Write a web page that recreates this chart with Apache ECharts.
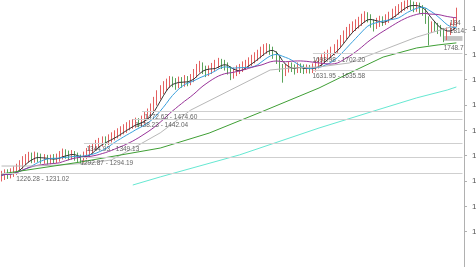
<!DOCTYPE html>
<html><head><meta charset="utf-8">
<script src="https://cdn.jsdelivr.net/npm/echarts@6/dist/echarts.min.js"></script>
<style>html,body{margin:0;padding:0;background:#fff}#c{width:476px;height:267px}</style>
</head><body><div id="c"></div>
<script>
const opens = [1215,1220,1232,1224,1230,1238,1250,1262,1278,1288,1296,1286,1298,1292,1284,1290,1280,1290,1284,1290,
1300,1310,1306,1298,1306,1298,1290,1286,1300,1314,1324,1334,1346,1350,1362,1356,1366,1374,1384,1390,
1398,1406,1414,1420,1426,1434,1430,1440,1454,1468,1488,1512,1538,1558,1574,1584,1596,1592,1580,1596,
1586,1602,1592,1604,1624,1644,1656,1640,1630,1636,1648,1660,1668,1662,1655,1640,1622,1628,1638,1644,
1654,1660,1670,1678,1688,1698,1710,1718,1726,1718,1700,1682,1650,1630,1644,1656,1648,1640,1650,1646,
1638,1646,1638,1646,1658,1668,1680,1690,1698,1710,1720,1738,1756,1774,1788,1800,1808,1816,1826,1838,
1852,1845,1826,1815,1824,1836,1830,1838,1850,1860,1870,1878,1888,1894,1900,1894,1884,1890,1880,1872,
1840,1800,1816,1810,1800,1790,1772,1790,1808,1824];
const closes = [1222,1230,1225,1232,1240,1252,1265,1280,1290,1295,1288,1298,1292,1286,1290,1282,1288,1285,1292,1302,
1310,1305,1300,1306,1298,1290,1285,1300,1315,1325,1335,1345,1352,1360,1358,1368,1375,1385,1392,1398,
1408,1415,1422,1428,1432,1430,1440,1455,1470,1490,1515,1540,1560,1575,1585,1595,1590,1580,1595,1588,
1600,1592,1605,1625,1645,1655,1640,1630,1638,1650,1660,1668,1662,1655,1640,1620,1630,1640,1645,1655,
1662,1670,1680,1690,1700,1712,1720,1725,1718,1700,1680,1650,1630,1645,1655,1648,1640,1650,1645,1640,
1645,1638,1648,1660,1670,1682,1692,1700,1712,1722,1740,1758,1775,1790,1800,1810,1818,1828,1840,1850,
1845,1825,1815,1825,1835,1830,1840,1850,1862,1872,1880,1890,1895,1900,1893,1885,1890,1880,1872,1840,
1800,1815,1810,1800,1790,1770,1790,1810,1825,1850];
const lows = [1198,1204,1208,1210,1216,1224,1236,1248,1262,1272,1270,1272,1275,1268,1268,1265,1266,1268,1270,1276,
1285,1288,1282,1284,1280,1274,1266,1272,1286,1300,1308,1320,1330,1336,1340,1342,1352,1360,1368,1376,
1384,1390,1400,1406,1410,1412,1416,1426,1440,1454,1474,1498,1522,1542,1556,1568,1570,1560,1566,1568,
1572,1574,1578,1590,1608,1628,1622,1610,1614,1622,1634,1644,1642,1636,1620,1598,1604,1614,1622,1630,
1638,1646,1654,1664,1674,1684,1694,1702,1698,1682,1662,1630,1588,1614,1628,1630,1620,1626,1626,1622,
1625,1624,1626,1632,1644,1654,1666,1676,1684,1696,1706,1724,1742,1758,1772,1784,1792,1802,1812,1824,
1826,1805,1790,1800,1808,1812,1816,1824,1836,1846,1856,1864,1872,1878,1874,1866,1868,1860,1852,1820,
1735,1784,1790,1780,1770,1748,1756,1776,1794,1810];
const highs = [1240,1246,1246,1250,1258,1268,1282,1298,1306,1315,1312,1316,1312,1308,1306,1303,1304,1306,1308,1318,
1328,1325,1320,1322,1318,1312,1304,1316,1330,1342,1350,1362,1370,1376,1376,1384,1392,1400,1408,1416,
1424,1432,1440,1444,1450,1448,1458,1472,1486,1506,1532,1558,1578,1594,1604,1614,1612,1606,1612,1610,
1618,1614,1622,1642,1662,1674,1668,1655,1656,1666,1678,1686,1682,1678,1668,1652,1648,1656,1662,1672,
1678,1688,1698,1708,1718,1730,1740,1744,1740,1730,1712,1694,1662,1662,1672,1668,1660,1668,1664,1660,
1660,1658,1664,1676,1688,1700,1710,1718,1730,1740,1758,1776,1794,1808,1820,1830,1838,1848,1860,1870,
1866,1858,1838,1844,1852,1850,1858,1868,1880,1890,1898,1906,1912,1916,1914,1908,1906,1904,1894,1882,
1850,1830,1830,1824,1816,1804,1806,1826,1845,1884];
const ma60Pts = [[0,1259],[10,1259],[19,1263],[29,1271],[36,1283],[42,1322],[52,1390],[62,1480],[75,1559],[88,1638],[95,1646],[104,1650],[114,1666],[125,1717],[136,1768],[146,1804],[149,1812]];
const ma120Pts = [[0,1228],[26,1275],[52,1330],[68,1389],[85,1472],[104,1567],[114,1626],[125,1689],[136,1725],[143,1737],[149,1745]];
const ma250Pts = [[43,1184],[52,1216],[78,1303],[104,1409],[123,1480],[136,1528],[146,1559],[149,1571]];
const levelValues = [1231.02,1294.19,1349.13,1442.04,1474.60,1702.20,1635.58];
const levelStarts = [0,26,27,43,46,102,102];
const levelTexts = ['1226.28 - 1231.02','1292.87 - 1294.19','1344.93 - 1349.13','1438.23 - 1442.04','1472.63 - 1474.60','1698.98 - 1702.20','1631.95 - 1635.58'];
const levelLabelIdx = [5,26,28,44,47,102,102];
const edgeTexts = ['184','1814.','1748.7'];
const edgeValues = [1845,1814,1748.7];
const edgeIdx = [147,147,145];
const boxRange = [1753,1772];
const yTicks = [1000,1100,1200,1300,1400,1500,1600,1700,1800];

const N = 152;
const categories = Array.from({length: N}, (_, i) => 'D' + (i + 1));
function movingAvg(n) {
  return closes.map((_, i) => {
    const s = Math.max(0, i - n + 1);
    let sum = 0;
    for (let k = s; k <= i; k++) sum += closes[k];
    return +(sum / (i - s + 1)).toFixed(2);
  });
}
const candles = closes.map((c, i) => [opens[i], c, lows[i], highs[i]]);
const FONT = "'Liberation Sans', Arial, sans-serif";

const chart = echarts.init(document.getElementById('c'), null, {renderer: 'canvas'});
const lineBase = {type: 'line', symbol: 'none', smooth: false, silent: true, z: 3};
const labelSeries = (vals, idxs, texts) => ({
  type: 'scatter', silent: true, symbolSize: 1, itemStyle: {color: 'rgba(0,0,0,0)'}, z: 5,
  labelLayout: {hideOverlap: false},
  label: {show: true, position: [0, 3], align: 'left', verticalAlign: 'top', fontSize: 6.5, color: '#3a3a3a', fontFamily: FONT},
  data: vals.map((v, k) => ({value: [idxs[k], v], label: {formatter: texts[k]}}))
});
chart.setOption({
  animation: false,
  backgroundColor: '#fff',
  grid: {left: 0, right: 12, top: -21.7, bottom: -15.3, containLabel: false, outerBoundsMode: 'none'},
  xAxis: {type: 'category', data: categories, boundaryGap: true, show: false},
  yAxis: {
    type: 'value', position: 'right', min: 800, max: 2000, interval: 100,
    splitLine: {show: false},
    axisLine: {show: true, lineStyle: {color: '#b0b0b0', width: 1}},
    axisTick: {show: true, length: 3, lineStyle: {color: '#b0b0b0'}, customValues: yTicks},
    axisLabel: {show: true, customValues: yTicks, margin: 8, fontSize: 8, color: '#555', fontFamily: FONT,
      formatter: v => v.toFixed(2)}
  },
  series: [
    {
      type: 'candlestick', data: candles, barWidth: 1, z: 2,
      itemStyle: {color: '#e36060', color0: '#5aa35a', borderColor: '#e36060', borderColor0: '#5aa35a', borderWidth: 1},
      markLine: {
        silent: true, symbol: 'none', animation: false,
        lineStyle: {color: '#cfcfcf', width: 1, type: 'solid'},
        label: {show: false},
        data: levelValues.map((v, k) => [{coord: [levelStarts[k], v]}, {coord: [N - 1, v]}])
      },
      markArea: {
        silent: true,
        itemStyle: {color: '#c4c4c4'},
        data: [[{coord: [145, boxRange[0]]}, {coord: [N - 1, boxRange[1]]}]]
      }
    },
    Object.assign({}, lineBase, {name: 'MA5', data: movingAvg(5), lineStyle: {color: '#333333', width: 1}}),
    Object.assign({}, lineBase, {name: 'MA10', data: movingAvg(10), lineStyle: {color: '#3aa0dd', width: 1}}),
    Object.assign({}, lineBase, {name: 'MA20', data: movingAvg(20), lineStyle: {color: '#993399', width: 1}}),
    Object.assign({}, lineBase, {name: 'MA60', data: ma60Pts, lineStyle: {color: '#b8b8b8', width: 1}}),
    Object.assign({}, lineBase, {name: 'MA120', data: ma120Pts, lineStyle: {color: '#3f9f35', width: 1}}),
    Object.assign({}, lineBase, {name: 'MA250', data: ma250Pts, lineStyle: {color: '#66e8d2', width: 1}}),
    labelSeries(levelValues, levelLabelIdx, levelTexts),
    labelSeries(edgeValues, edgeIdx, edgeTexts)
  ]
});
</script>
</body></html>
